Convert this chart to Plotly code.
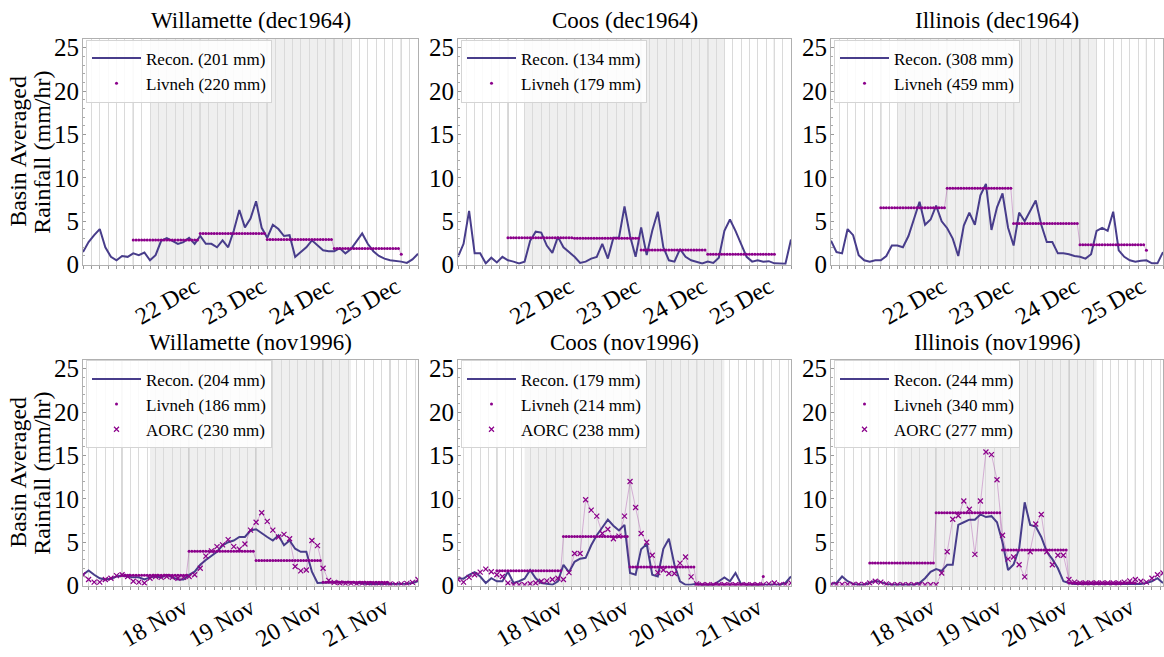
import numpy as np
import pandas as pd
import plotly.graph_objects as go

FONT = "Liberation Serif"
RECON_COLOR = "#483d8b"
LIV_COLOR = "#8b008b"
LIV_LINE = "rgba(139,0,139,0.35)"

titles = ["Willamette (dec1964)", "Coos (dec1964)", "Illinois (dec1964)",
          "Willamette (nov1996)", "Coos (nov1996)", "Illinois (nov1996)"]
y_label_lines = ["Basin Averaged", "Rainfall (mm/hr)"]
window_start = ["1964-12-21 06:00"] * 3 + ["1996-11-17 10:00"] * 3
window_hours = 120
step_hours = 2
storm_offset_hours = (24, 96)
livneh_start = ["1964-12-22 00:00"] * 3 + ["1996-11-18 00:00"] * 3
day_labels_dec = ["22 Dec", "23 Dec", "24 Dec", "25 Dec"]
day_labels_nov = ["18 Nov", "19 Nov", "20 Nov", "21 Nov"]
day_labels = [day_labels_dec] * 3 + [day_labels_nov] * 3

recon_totals = [201, 134, 308, 204, 179, 244]
livneh_totals = [220, 179, 459, 186, 214, 340]
aorc_totals = [None, None, None, 230, 238, 277]

# Reconstructed basin-averaged rainfall (mm/hr), every 2 hours over the window
recon_willamette_dec = [
    1.45, 2.6, 3.4, 4.1, 2.0, 0.9, 0.5, 1.0, 0.9, 1.3,
    1.1, 1.4, 0.5, 1.1, 2.75, 3.05, 2.75, 2.4, 2.6, 3.1,
    2.4, 3.3, 2.4, 2.4, 2.0, 2.8, 2.0, 3.9, 6.3, 4.3,
    5.3, 7.3, 4.25, 3.1, 4.6, 4.1, 3.3, 3.4, 0.9, 1.45,
    2.0, 2.8, 2.2, 1.65, 1.55, 1.55, 1.9, 1.3, 1.8, 2.75,
    3.6, 2.4, 1.55, 1.0, 0.7, 0.5, 0.45, 0.35, 0.2, 0.6,
    1.25]
recon_coos_dec = [
    0.9, 2.4, 6.2, 1.3, 1.3, 0.15, 0.8, 0.25, 0.9, 0.5,
    0.35, 0.15, 0.35, 2.75, 3.8, 3.7, 2.2, 1.35, 3.2, 2.0,
    1.45, 0.9, 0.2, 0.35, 0.7, 0.9, 2.4, 0.7, 3.1, 3.1,
    6.7, 3.3, 0.9, 4.3, 1.1, 3.9, 6.1, 2.0, 0.5, 0.35,
    1.8, 0.9, 0.5, 0.35, 0.15, 0.35, 0.2, 0.8, 3.9, 5.2,
    3.9, 2.4, 0.9, 0.35, 0.5, 0.35, 0.4, 0.15, 0.1, 0.1,
    2.9]
recon_illinois_dec = [
    2.75, 1.45, 1.3, 4.1, 3.4, 1.1, 0.5, 0.35, 0.5, 0.5,
    1.0, 2.2, 2.2, 2.0, 3.3, 5.4, 7.25, 4.6, 5.2, 6.8,
    5.0, 4.2, 3.0, 1.0, 4.5, 6.0, 4.6, 8.0, 9.3, 4.0,
    6.6, 8.2, 4.25, 2.2, 6.0, 5.0, 6.2, 7.4, 4.6, 2.6,
    2.6, 1.3, 1.3, 1.2, 1.0, 0.9, 0.7, 1.2, 3.9, 4.25,
    3.9, 6.1, 1.65, 0.9, 0.5, 0.35, 0.45, 0.5, 0.15, 0.15,
    1.45]
recon_willamette_nov = [
    1.25, 1.75, 1.25, 0.85, 0.7, 0.8, 1.05, 1.15, 1.05, 0.95,
    0.95, 0.7, 0.95, 1.05, 0.95, 1.25, 0.95, 0.7, 0.7, 1.25,
    1.6, 2.4, 2.95, 3.4, 3.9, 4.65, 5.0, 5.2, 5.6, 5.6,
    6.35, 6.5, 6.0, 5.6, 5.2, 5.8, 4.65, 5.2, 4.25, 3.9,
    3.9, 1.6, 0.3, 0.3, 0.3, 0.38, 0.4, 0.4, 0.38, 0.3,
    0.22, 0.2, 0.2, 0.2, 0.2, 0.2, 0.2, 0.2, 0.22, 0.3,
    0.5]
recon_coos_nov = [
    0.85, 0.8, 1.25, 1.55, 1.05, 0.3, 0.85, 0.5, 0.5, 1.6,
    0.3, 0.5, 0.8, 1.8, 0.85, 0.3, 0.22, 0.1, 0.5, 2.4,
    1.55, 2.75, 3.1, 3.2, 4.65, 5.8, 6.7, 7.6, 6.9, 6.35,
    7.0, 1.45, 1.25, 4.2, 4.8, 1.25, 1.05, 4.25, 5.4, 2.4,
    0.5, 0.1, 0.1, 0.22, 0.1, 0.1, 0.1, 0.5, 0.95, 0.5,
    1.45, 0.2, 0.1, 0.1, 0.1, 0.1, 0.1, 0.1, 0.1, 0.3,
    1.05]
recon_illinois_nov = [
    0.2, 0.3, 1.05, 0.5, 0.2, 0.1, 0.1, 0.3, 0.55, 0.4,
    0.2, 0.1, 0.1, 0.1, 0.1, 0.1, 0.3, 0.85, 1.6, 1.9,
    1.7, 2.4, 2.4, 7.0, 7.3, 7.6, 7.6, 8.2, 7.9, 8.0,
    7.3, 5.0, 1.8, 2.45, 4.25, 9.6, 7.0, 6.8, 5.6, 3.9,
    3.05, 2.0, 0.5, 0.3, 0.2, 0.2, 0.2, 0.2, 0.2, 0.2,
    0.2, 0.2, 0.2, 0.2, 0.2, 0.2, 0.2, 0.3, 0.5, 0.85,
    0.3]

# Livneh daily rainfall rate (mm/hr), one value per day from livneh_start
livneh_willamette_dec = [2.85, 3.6, 2.9, 1.85, 1.2]
livneh_coos_dec = [3.1, 3.05, 1.7, 1.2, 1.2]
livneh_illinois_dec = [6.55, 8.8, 4.75, 2.3, 1.65]
livneh_willamette_nov = [1.2, 3.95, 2.9, 0.4, 0.2]
livneh_coos_nov = [1.7, 5.65, 2.15, 0.1, 1.05]
livneh_illinois_nov = [2.6, 8.4, 4.1, 0.3, 0.3]

# AORC rainfall (mm/hr), every 2 hours (nov1996 only)
aorc_willamette_nov = [
    1.25, 0.7, 0.4, 0.4, 0.7, 0.85, 1.15, 1.25, 1.05, 0.5,
    0.4, 0.3, 0.85, 1.05, 0.95, 1.05, 0.95, 0.85, 0.95, 1.05,
    1.25, 2.0, 3.4, 4.0, 4.5, 4.7, 5.3, 4.5, 4.2, 4.8,
    6.4, 7.3, 8.4, 7.4, 6.4, 5.6, 5.9, 5.4, 2.2, 1.7,
    1.8, 5.2, 4.6, 2.0, 0.6, 0.38, 0.3, 0.26, 0.26, 0.22,
    0.26, 0.22, 0.2, 0.2, 0.2, 0.2, 0.15, 0.2, 0.26, 0.38,
    0.7]
aorc_coos_nov = [
    0.7, 0.4, 0.95, 1.25, 1.55, 1.9, 1.6, 1.25, 1.05, 0.3,
    0.1, 0.1, 0.1, 0.22, 0.3, 0.5, 0.55, 0.7, 0.85, 0.7,
    1.5, 3.7, 3.7, 9.9, 8.7, 8.0, 6.0, 6.5, 5.4, 5.7,
    8.0, 12.0, 9.0, 6.0, 5.0, 3.5, 1.5, 1.8, 1.4, 1.4,
    2.6, 3.3, 1.0, 0.2, 0.1, 0.1, 0.1, 0.1, 0.1, 0.1,
    0.1, 0.1, 0.1, 0.1, 0.1, 0.1, 0.2, 0.3, 0.1, 0.15,
    0.3]
aorc_illinois_nov = [
    0.15, 0.15, 0.15, 0.15, 0.15, 0.15, 0.15, 0.3, 0.5, 0.4,
    0.2, 0.1, 0.1, 0.1, 0.1, 0.1, 0.1, 0.1, 0.1, 0.1,
    1.45, 3.9, 7.65, 8.05, 9.75, 8.8, 3.6, 9.75, 15.4, 15.1,
    12.2, 5.8, 3.05, 3.3, 2.4, 1.0, 3.9, 7.1, 8.2, 3.9,
    2.4, 3.5, 3.5, 0.7, 0.4, 0.3, 0.3, 0.3, 0.3, 0.3,
    0.3, 0.3, 0.3, 0.4, 0.55, 0.7, 0.5, 0.4, 0.85, 1.25,
    1.45]

recon = [recon_willamette_dec, recon_coos_dec, recon_illinois_dec,
         recon_willamette_nov, recon_coos_nov, recon_illinois_nov]
livneh = [livneh_willamette_dec, livneh_coos_dec, livneh_illinois_dec,
          livneh_willamette_nov, livneh_coos_nov, livneh_illinois_nov]
aorc = [None, None, None, aorc_willamette_nov, aorc_coos_nov, aorc_illinois_nov]

y_ticks = [0, 5, 10, 15, 20, 25]
y_range = [0, 26]

# ---- layout geometry (pixels) ----
W, H = 1164, 657
col_px = [(83, 418), (458, 791), (831, 1163)]
row_px = [(36, 268), (366, 598)]
title_y_px = [17, 348]
ylabel_x_px = [18, 42]

fig = go.Figure()
shapes, annotations = [], []
layout = dict(
    width=W, height=H, margin=dict(l=0, r=0, t=0, b=0),
    paper_bgcolor="white", plot_bgcolor="white",
    font=dict(family=FONT, color="black"),
)

for i in range(6):
    r, c = divmod(i, 3)
    sfx = "" if i == 0 else str(i + 1)
    xa, ya = "x" + sfx, "y" + sfx
    leg = "legend" + sfx
    t0 = pd.Timestamp(window_start[i])
    t1 = t0 + pd.Timedelta(hours=window_hours)

    rt = pd.date_range(t0, periods=len(recon[i]), freq=f"{step_hours}h")
    fig.add_trace(go.Scatter(
        x=rt, y=recon[i], mode="lines", line=dict(color=RECON_COLOR, width=2),
        name=f"Recon. ({recon_totals[i]} mm)", xaxis=xa, yaxis=ya,
        legend=leg, legendgroup=f"rec{i}"))

    lv = np.asarray(livneh[i], dtype=float)
    lt = pd.date_range(pd.Timestamp(livneh_start[i]), periods=24 * (len(lv) - 1) + 1, freq="h")
    lvals = np.append(np.repeat(lv[:-1], 24), lv[-1])
    fig.add_trace(go.Scatter(
        x=lt, y=lvals, mode="lines", line=dict(color=LIV_LINE, width=0.8),
        showlegend=False, hoverinfo="skip", xaxis=xa, yaxis=ya))
    fig.add_trace(go.Scatter(
        x=lt, y=lvals, mode="markers", marker=dict(color=LIV_COLOR, size=3),
        name=f"Livneh ({livneh_totals[i]} mm)", xaxis=xa, yaxis=ya,
        legend=leg, legendgroup=f"liv{i}"))

    if aorc[i] is not None:
        at = pd.date_range(t0, periods=len(aorc[i]), freq=f"{step_hours}h")
        fig.add_trace(go.Scatter(
            x=at, y=aorc[i], mode="lines", line=dict(color=LIV_LINE, width=0.8),
            showlegend=False, hoverinfo="skip", xaxis=xa, yaxis=ya))
        fig.add_trace(go.Scatter(
            x=at, y=aorc[i], mode="markers",
            marker=dict(symbol="x-thin", size=5, color=LIV_COLOR,
                        line=dict(color=LIV_COLOR, width=1.2)),
            name=f"AORC ({aorc_totals[i]} mm)", xaxis=xa, yaxis=ya,
            legend=leg, legendgroup=f"aorc{i}"))

    x0p, x1p = col_px[c]
    y0p, y1p = row_px[r]
    xdom = [x0p / W, x1p / W]
    ydom = [1 - y1p / H, 1 - y0p / H]

    first_day = pd.Timestamp(livneh_start[i])
    day_lines = pd.date_range(first_day, periods=len(livneh[i]), freq="D")
    noons = [d + pd.Timedelta(hours=12) for d in day_lines[:len(day_labels[i])]]

    layout["xaxis" + sfx] = dict(
        domain=xdom, anchor=ya, type="date", range=[t0, t1],
        tickmode="array", tickvals=noons, ticktext=day_labels[i],
        tickangle=-30, ticklabelshift=28, ticklabelstandoff=-2,
        ticks="", showgrid=False, zeroline=False,
        showline=True, mirror=True, linecolor="#b0b0b0", linewidth=1,
        tickfont=dict(family=FONT, size=24, color="black"),
        minor=dict(tickmode="linear", tick0=first_day, dtick=3 * 3600 * 1000,
                   showgrid=True, gridcolor="#dadada", gridwidth=0.7,
                   ticks="outside", ticklen=3, tickcolor="#999999"),
    )
    layout["yaxis" + sfx] = dict(
        domain=ydom, anchor=xa, range=y_range, tickmode="array", tickvals=y_ticks,
        ticks="inside", ticklen=3, tickcolor="#999999", showgrid=False, zeroline=False,
        showline=True, mirror=True, linecolor="#b0b0b0", linewidth=1,
        ticklabelstandoff=-2,
        tickfont=dict(family=FONT, size=25, color="black"),
        minor=dict(tickmode="linear", tick0=0, dtick=1, ticks="inside",
                   ticklen=2, tickcolor="#aaaaaa"),
    )

    if c == 0:
        for k, line_text in enumerate(y_label_lines):
            annotations.append(dict(
                text=line_text, xref="paper", yref="paper",
                x=ylabel_x_px[k] / W, y=(ydom[0] + ydom[1]) / 2,
                xanchor="center", yanchor="middle", textangle=-90, showarrow=False,
                font=dict(family=FONT, size=24, color="black")))

    shapes.append(dict(
        type="rect", xref=xa, yref=f"{ya} domain",
        x0=t0 + pd.Timedelta(hours=storm_offset_hours[0]),
        x1=t0 + pd.Timedelta(hours=storm_offset_hours[1]),
        y0=0, y1=1, fillcolor="#efefef", line=dict(width=0), layer="below"))
    for d in day_lines:
        shapes.append(dict(
            type="line", xref=xa, yref=f"{ya} domain", x0=d, x1=d, y0=0, y1=1,
            line=dict(color="#a3a3a3", width=1), layer="below"))

    annotations.append(dict(
        text=titles[i], xref="paper", yref="paper",
        x=(xdom[0] + xdom[1]) / 2, y=1 - title_y_px[r] / H,
        xanchor="center", yanchor="middle", showarrow=False,
        font=dict(family=FONT, size=23, color="black")))

    layout[leg] = dict(
        x=xdom[0] + 3 / W, y=ydom[1] - 0.5 / H, xanchor="left", yanchor="top",
        xref="paper", yref="paper",
        bgcolor="rgba(255,255,255,0.85)", bordercolor="#d4d4d4", borderwidth=1,
        font=dict(family=FONT, size=17, color="black"),
        itemwidth=49, tracegroupgap=6, traceorder="normal",
    )

layout["shapes"] = shapes
layout["annotations"] = annotations
fig.update_layout(**layout)
fig.write_html("out.html")
